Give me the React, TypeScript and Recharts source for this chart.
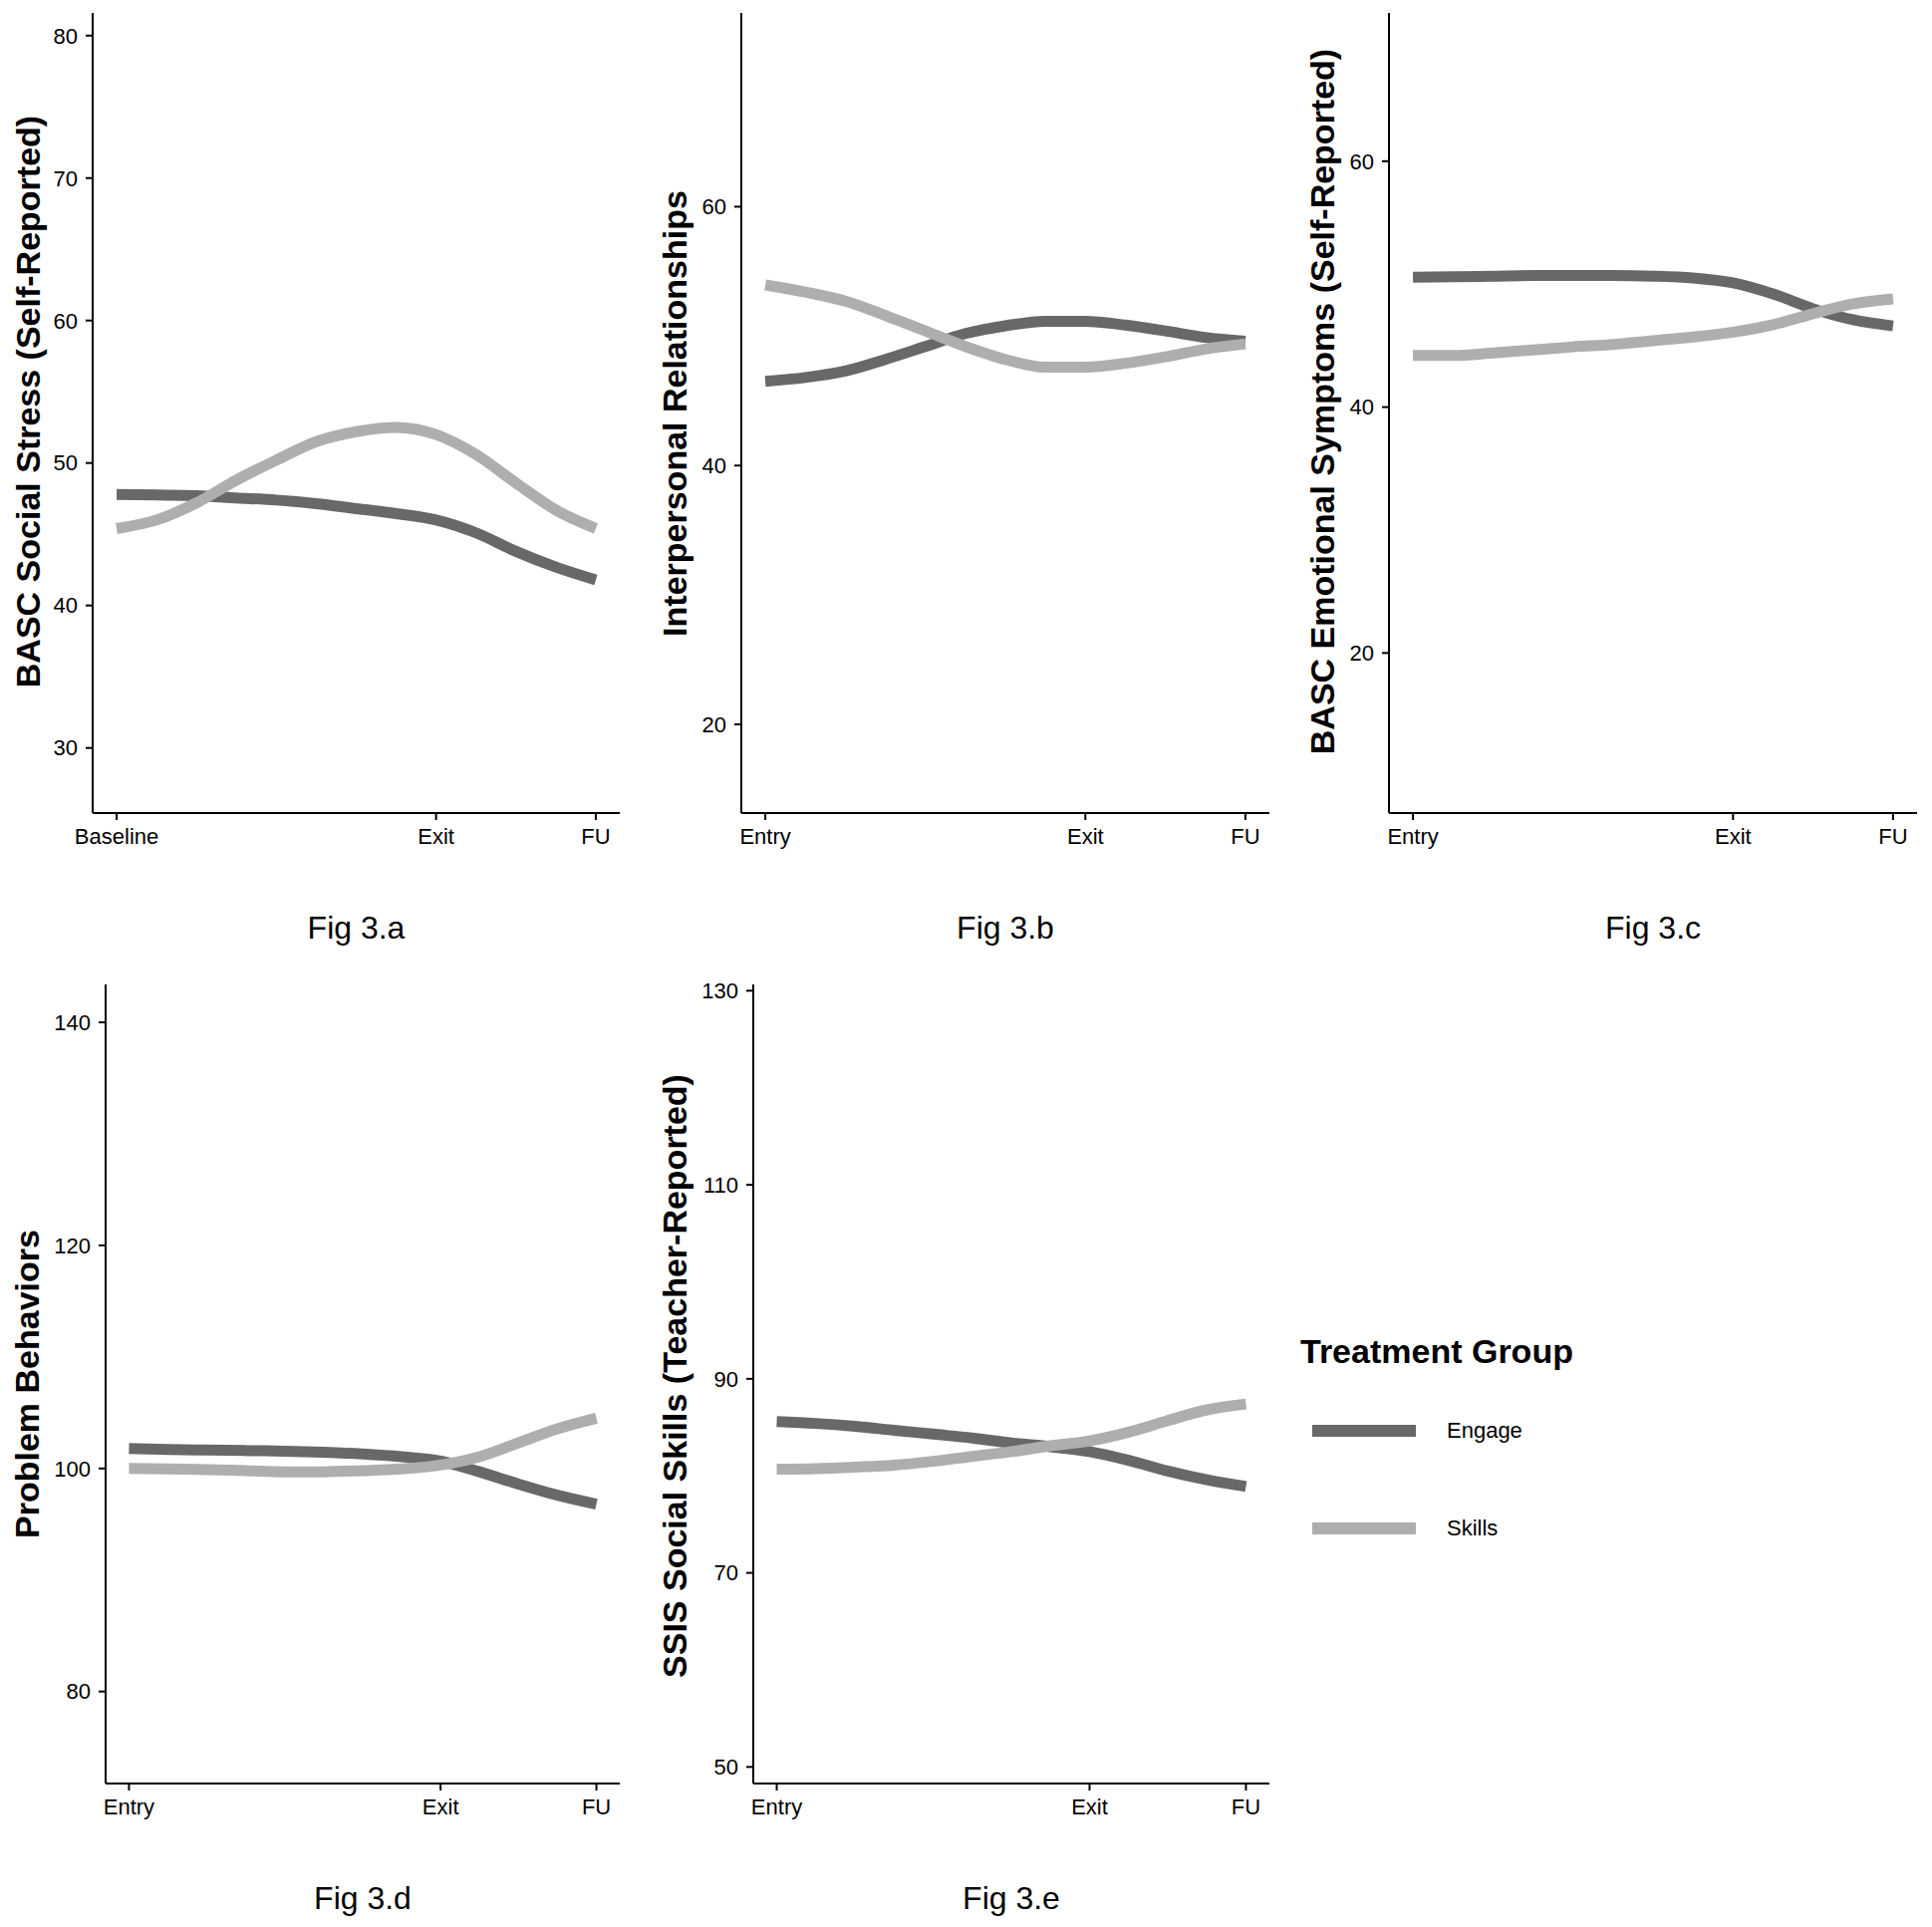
import { LineChart, Line, XAxis, YAxis } from 'recharts'

// time in the study: Entry/Baseline = 0, Exit = 2, FU = 3
const timePoints = [0, 0.25, 0.5, 0.75, 1, 1.25, 1.5, 1.75, 2, 2.25, 2.5, 2.75, 3]
const timeTicks = [0, 2, 3]
const baselineLabels = ['Baseline', 'Exit', 'FU']
const entryLabels = ['Entry', 'Exit', 'FU']

// Fig 3.a BASC Social Stress
const stressEngage = [47.8, 47.75, 47.7, 47.55, 47.4, 47.15, 46.8, 46.45, 46.0, 45.1, 43.8, 42.7, 41.8]
const stressSkills = [45.4, 46.0, 47.2, 48.8, 50.2, 51.5, 52.2, 52.5, 52.0, 50.6, 48.6, 46.7, 45.4]
const stressTicks = [30, 40, 50, 60, 70, 80]

// Fig 3.b Interpersonal Relationships
const relEngage = [46.5, 46.8, 47.3, 48.2, 49.2, 50.2, 50.8, 51.15, 51.15, 50.85, 50.4, 49.9, 49.6]
const relSkills = [53.95, 53.4, 52.7, 51.6, 50.4, 49.2, 48.2, 47.6, 47.6, 47.9, 48.4, 49.0, 49.4]
const relTicks = [20, 40, 60]

// Fig 3.c BASC Emotional Symptoms
const emoEngage = [50.56, 50.6, 50.65, 50.7, 50.7, 50.7, 50.65, 50.5, 50.1, 49.2, 48.0, 47.1, 46.6]
const emoSkills = [44.2, 44.2, 44.4, 44.65, 44.9, 45.1, 45.4, 45.7, 46.1, 46.7, 47.6, 48.4, 48.8]
const emoTicks = [20, 40, 60]

// Fig 3.d Problem Behaviors
const probEngage = [101.8, 101.7, 101.65, 101.6, 101.55, 101.45, 101.3, 101.05, 100.65, 99.7, 98.6, 97.6, 96.8]
const probSkills = [100, 99.95, 99.9, 99.8, 99.7, 99.7, 99.8, 99.95, 100.3, 101.05, 102.3, 103.55, 104.5]
const probTicks = [80, 100, 120, 140]

// Fig 3.e SSIS Social Skills
const ssisEngage = [85.6, 85.4, 85.1, 84.7, 84.3, 83.9, 83.4, 83.0, 82.5, 81.6, 80.5, 79.6, 78.9]
const ssisSkills = [80.7, 80.75, 80.9, 81.1, 81.5, 82.0, 82.5, 83.1, 83.6, 84.5, 85.7, 86.8, 87.4]
const ssisTicks = [50, 70, 90, 110, 130]

const groups = [
  { key: 'engage', name: 'Engage', color: '#686868' },
  { key: 'skills', name: 'Skills', color: '#AEAEAE' },
]

const FONT = '"Liberation Sans", Arial, Helvetica, sans-serif'
const Y_W = 80
const X_H = 50
const PAD = 10

interface PanelProps {
  title: string
  caption: string
  engage: number[]
  skills: number[]
  yDomain: [number, number]
  yTicks: number[]
  xLabels: string[]
  axisX: number
  right: number
  top: number
  bottom: number
  titleX: number
  titleShift?: number
}

function Panel(p: PanelProps) {
  const data = timePoints.map((t, i) => ({ t, engage: p.engage[i], skills: p.skills[i] }))
  const width = p.right - p.axisX + Y_W + PAD
  const height = p.bottom - p.top + PAD + X_H
  const midY = (p.top + p.bottom) / 2 + (p.titleShift || 0)
  const midX = (p.axisX + p.right) / 2
  const axisStyle = { stroke: '#000', strokeWidth: 2 }
  const tickStyle = { fill: '#000', fontSize: 22, fontFamily: FONT }

  return (
    <>
      <div style={{ position: 'absolute', left: p.axisX - Y_W, top: p.top - PAD }}>
        <LineChart width={width} height={height} data={data}
          margin={{ top: PAD, right: PAD, bottom: 0, left: 0 }}>
          <XAxis dataKey="t" type="number" domain={[-0.15, 3.15]} ticks={timeTicks}
            interval={0} height={X_H} axisLine={axisStyle} tickLine={axisStyle}
            tickSize={7} tickMargin={8} tick={tickStyle}
            tickFormatter={(v: number) => p.xLabels[timeTicks.indexOf(v)]} />
          <YAxis type="number" domain={p.yDomain} ticks={p.yTicks} interval={0}
            allowDataOverflow width={Y_W} axisLine={axisStyle} tickLine={axisStyle}
            tickSize={7} tickMargin={8} tick={tickStyle} />
          {groups.map(g => (
            <Line key={g.key} dataKey={g.key} name={g.name} type="monotone"
              stroke={g.color} strokeWidth={11} dot={false} isAnimationActive={false} />
          ))}
        </LineChart>
      </div>
      <div style={{
        position: 'absolute', left: p.titleX, top: midY, whiteSpace: 'nowrap',
        transform: 'translate(-50%, -50%) rotate(-90deg)', fontFamily: FONT,
        fontWeight: 'bold', fontSize: 34, lineHeight: 1, color: '#000',
      }}>{p.title}</div>
      <div style={{
        position: 'absolute', left: midX, top: p.bottom + 115, whiteSpace: 'nowrap',
        transform: 'translate(-50%, -50%)', fontFamily: FONT, fontSize: 32,
        lineHeight: 1, color: '#000',
      }}>{p.caption}</div>
    </>
  )
}

function GroupLegend() {
  return (
    <div style={{ position: 'absolute', left: 1305, top: 1330, fontFamily: FONT, color: '#000' }}>
      <div style={{ fontWeight: 'bold', fontSize: 34, lineHeight: 1, marginTop: 9 }}>Treatment Group</div>
      {groups.map((g, i) => (
        <div key={g.key} style={{ position: 'absolute', left: 0, top: 106 + i * 98 - 20, width: 300, height: 40 }}>
          <svg width={120} height={40} style={{ position: 'absolute', left: 0, top: 0 }}>
            <line x1={12} x2={116} y1={20} y2={20} stroke={g.color} strokeWidth={12} />
          </svg>
          <span style={{ position: 'absolute', left: 147, top: 20, transform: 'translateY(-50%)', fontSize: 22, lineHeight: 1 }}>{g.name}</span>
        </div>
      ))}
    </div>
  )
}

export default function App() {
  return (
    <div style={{ position: 'absolute', left: 0, top: 0, width: 1939, height: 1934, background: '#fff' }}>
      <Panel title="BASC Social Stress (Self-Reported)" caption="Fig 3.a"
        engage={stressEngage} skills={stressSkills} yDomain={[25.43, 81.59]} yTicks={stressTicks}
        xLabels={baselineLabels} axisX={93} right={622} top={13} bottom={816} titleX={28} titleShift={-12} />
      <Panel title="Interpersonal Relationships" caption="Fig 3.b"
        engage={relEngage} skills={relSkills} yDomain={[13.15, 74.97]} yTicks={relTicks}
        xLabels={entryLabels} axisX={744} right={1274} top={13} bottom={816} titleX={677} />
      <Panel title="BASC Emotional Symptoms (Self-Reported)" caption="Fig 3.c"
        engage={emoEngage} skills={emoSkills} yDomain={[6.98, 72.06]} yTicks={emoTicks}
        xLabels={entryLabels} axisX={1394} right={1924} top={13} bottom={816} titleX={1327} titleShift={-12} />
      <Panel title="Problem Behaviors" caption="Fig 3.d"
        engage={probEngage} skills={probSkills} yDomain={[71.75, 143.4]} yTicks={probTicks}
        xLabels={entryLabels} axisX={106} right={622} top={988} bottom={1790} titleX={27} />
      <Panel title="SSIS Social Skills (Teacher-Reported)" caption="Fig 3.e"
        engage={ssisEngage} skills={ssisSkills} yDomain={[48.29, 130.65]} yTicks={ssisTicks}
        xLabels={entryLabels} axisX={756} right={1274} top={988} bottom={1790} titleX={677} titleShift={-8} />
      <GroupLegend />
    </div>
  )
}
